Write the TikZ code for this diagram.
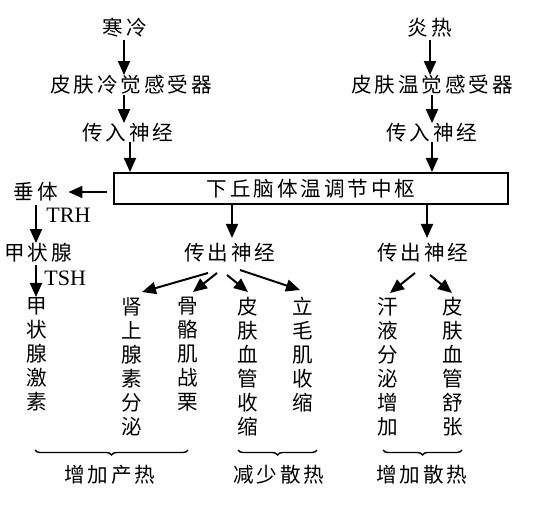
\documentclass[tikz,border=0pt]{standalone}
\usepackage{fontspec}
\setmainfont{Liberation Serif}
\newfontfamily\cjk[LetterSpace=14]{Noto Sans CJK SC}
\usetikzlibrary{arrows.meta,calc,decorations.pathreplacing}

\tikzset{
	txt/.style={font=\cjk\fontsize{10.3}{12}\selectfont, inner sep=0pt},
	vtxt/.style={txt, align=center, anchor=north},
	lat/.style={font=\fontsize{11}{12}\selectfont, inner sep=0pt, anchor=west},
	arr/.style={line width=1pt, -{Triangle[length=7pt,width=6pt]}},
	brc/.style={decorate, decoration={brace, mirror, amplitude=2.5pt}, line width=0.7pt},
}

\begin{document}
\begin{tikzpicture}[x=0.5pt,y=-0.5pt]
			%%%%% START %%%%%
			\useasboundingbox (0,0) rectangle (540,507);
			
			\node[txt] (cold) at (125,28) {寒冷};
			\node[txt] (hot) at (430,28) {炎热};
			\node[txt] (coldR) at (131,85) {皮肤冷觉感受器};
			\node[txt] (hotR) at (432,85) {皮肤温觉感受器};
			\node[txt] (affL) at (128,133) {传入神经};
			\node[txt] (affR) at (432,133) {传入神经};
			
			\node[txt, draw, line width=1pt, minimum width=197pt, minimum height=15.5pt] (ctr) at (311,188.5) {下丘脑体温调节中枢};
			
			\coordinate (c1) at (124,40);
			\coordinate (c2) at (124,95);
			\coordinate (c3) at (130,142);
			\coordinate (h1) at (430,40);
			\coordinate (h2) at (432,95);
			\coordinate (h3) at (432,142);
			\draw[arr] (c1) -- (c1 |- coldR.north);
			\draw[arr] (c2) -- (c2 |- affL.north);
			\draw[arr] (c3) -- (c3 |- ctr.north);
			\draw[arr] (h1) -- (h1 |- hotR.north);
			\draw[arr] (h2) -- (h2 |- affR.north);
			\draw[arr] (h3) -- (h3 |- ctr.north);
			
			\node[txt] (pit) at (36,192) {垂体};
			\node[txt] (thy) at (38,253) {甲状腺};
			\node[vtxt] (TH) at (37,297) {甲\\状\\腺\\激\\素};
			
			\draw[arr, shorten <=3pt] (ctr.west |- pit.east) -- ([xshift=5pt]pit.east);
			\coordinate (p1) at (36,205);
			\coordinate (t1) at (36,265);
			\draw[arr] (p1) -- (p1 |- thy.north);
			\node[lat] (trh) at (46,215) {TRH};
			\draw[arr] (t1) -- (t1 |- TH.north);
			\node[lat] (tsh) at (44,278) {TSH};
			
			\node[txt] (effL) at (230,253) {传出神经};
			\node[txt] (effR) at (423,253) {传出神经};
			\coordinate (eL) at (232,238);
			\coordinate (eR) at (427,238);
			\draw[arr] (eL |- ctr.south) -- (eL);
			\draw[arr] (eR |- ctr.south) -- (eR);
			
			\node[vtxt] (adr) at (132,297) {肾\\上\\腺\\素\\分\\泌};
			\node[vtxt] (ske) at (188,297) {骨\\骼\\肌\\战\\栗};
			\node[vtxt] (vasoC) at (248,297) {皮\\肤\\血\\管\\收\\缩};
			\node[vtxt] (pilo) at (303,297) {立\\毛\\肌\\收\\缩};
			\node[vtxt] (sweat) at (388,297) {汗\\液\\分\\泌\\增\\加};
			\node[vtxt] (vasoD) at (453,297) {皮\\肤\\血\\管\\舒\\张};
			
			\draw[arr] ($(effL)+(-22,20)$) -- ($(adr.north)+(10,-5)$);
			\draw[arr] ($(effL)+(-13,20)$) -- ($(ske.north)+(5,-5)$);
			\draw[arr] ($(effL)+(-3,22)$) -- ($(vasoC.north)+(0,-5)$);
			\draw[arr] ($(effL)+(10,17)$) -- ($(pilo.north)+(-3,-7)$);
			\draw[arr] ($(effR)+(-8,20)$) -- ($(sweat.north)+(2,-4)$);
			\draw[arr] ($(effR)+(7,22)$) -- ($(vasoD.north)+(-1,-4)$);
			
			\draw[brc] (35,450) -- (188,450);
			\draw[brc] (238,450) -- (317,450);
			\draw[brc] (383,450) -- (462,450);
			
			\node[txt] (incP) at (110,475) {增加产热};
			\node[txt] (decL) at (279,475) {减少散热};
			\node[txt] (incL) at (422,475) {增加散热};
			
			%%%%% END %%%%%
\end{tikzpicture}
\end{document}
